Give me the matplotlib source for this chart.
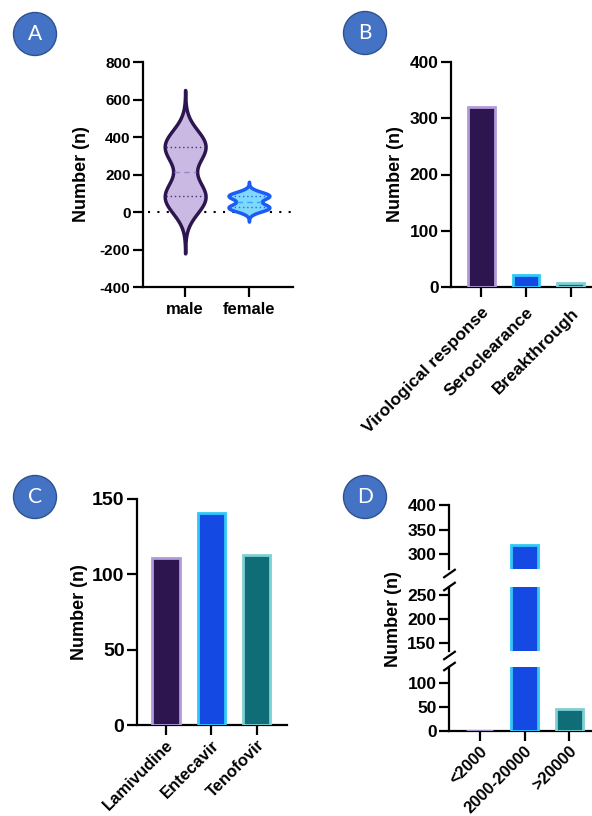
import numpy as np
import matplotlib
matplotlib.use('Agg')
import matplotlib.pyplot as plt
from matplotlib.patches import Ellipse

# ---- data ----
sex_labels = ['male', 'female']
male_values = [60, 80, 100, 330, 350, 370]
female_values = [15, 25, 30, 80, 85, 95]
male_bw, female_bw = 85, 20

outcome_labels = ['Virological response', 'Seroclearance', 'Breakthrough']
outcome_counts = [320, 22, 8]

drug_labels = ['Lamivudine', 'Entecavir', 'Tenofovir']
drug_counts = [111, 141, 113]

load_labels = ['<2000', '2000-20000', '>20000']
load_counts = [1, 318, 46]

# colours
PURPLE, LAVENDER = '#2d1650', '#b09ad9'
BLUE, CYAN = '#1449e3', '#30c8f7'
TEAL, LTEAL = '#0f6d78', '#80cfd5'
bar_fill = [PURPLE, BLUE, TEAL]
bar_edge = [LAVENDER, CYAN, LTEAL]

plt.rcParams['font.family'] = ['Liberation Sans', 'DejaVu Sans']
plt.rcParams['font.weight'] = 'bold'
plt.rcParams['axes.labelweight'] = 'bold'
plt.rcParams['axes.unicode_minus'] = False

W, H = 592, 816
fig = plt.figure(figsize=(W / 100, H / 100), dpi=100)


def px_axes(left, top, right, bottom):
    return fig.add_axes([left / W, 1 - bottom / H, (right - left) / W, (bottom - top) / H])


def style(ax, ytick_size=11, bottom=True):
    for s in ['top', 'right']:
        ax.spines[s].set_visible(False)
    ax.spines['left'].set_linewidth(1.6)
    ax.spines['bottom'].set_linewidth(1.6)
    ax.spines['bottom'].set_visible(bottom)
    ax.tick_params(axis='y', length=7, width=1.6, labelsize=ytick_size, pad=2)
    ax.tick_params(axis='x', length=7, width=1.6, pad=6)
    if not bottom:
        ax.tick_params(axis='x', length=0, labelbottom=False)


def panel_letter(cx, cy, letter):
    fig.patches.append(Ellipse((cx / W, 1 - cy / H), 43 / W, 43 / H,
                               transform=fig.transFigure, facecolor='#4472c4',
                               edgecolor='#2f528f', lw=1))
    fig.text(cx / W, 1 - cy / H, letter, color='white', fontsize=15,
             family='Lato', weight='normal', ha='center', va='center')


def rotated_labels(ax, labels, size=12.5):
    ax.set_xticklabels(labels, rotation=45, ha='right', va='top',
                       rotation_mode='anchor', fontsize=size)


def kde(vals, grid, bw):
    z = (grid[:, None] - np.asarray(vals, float)[None, :]) / bw
    return np.exp(-0.5 * z ** 2).sum(axis=1)


def violin(ax, pos, vals, bw, face, edge, qcol, mcol):
    grid = np.linspace(min(vals) - 3.3 * bw, max(vals) + 3.3 * bw, 500)
    d = kde(vals, grid, bw)
    half = d / d.max() * 0.32
    ax.fill_betweenx(grid, pos - half, pos + half, facecolor=face,
                     edgecolor=edge, lw=2.5, zorder=3)
    q1, med, q3 = np.percentile(vals, [25, 50, 75])
    for q, col, ls in [(q1, qcol, (0, (1, 2))), (q3, qcol, (0, (1, 2))),
                       (med, mcol, (0, (4, 3)))]:
        w = np.interp(q, grid, half) - 0.02
        ax.plot([pos - w, pos + w], [q, q], color=col, lw=1, ls=ls, zorder=4)


# ---- A: violin ----
axA = px_axes(143, 62, 293, 287)
axA.axhline(0, xmin=0.03, color='black', lw=1.5, ls=(0, (1, 3.5)), zorder=2)
violin(axA, 0, male_values, male_bw, '#c9b9e3', PURPLE, '#4b2d7d', '#9a86d0')
violin(axA, 1, female_values, female_bw, '#80d8fb', '#1a5cf5', '#2a66ff', '#30a8ff')
axA.set_xlim(-0.66, 1.69)
axA.set_ylim(-400, 800)
axA.set_yticks(np.arange(-400, 801, 200))
axA.set_xticks([0, 1])
axA.set_xticklabels(sex_labels, fontsize=12)
axA.set_ylabel('Number (n)', fontsize=13)
axA.yaxis.set_label_coords(-0.355, 0.5)
style(axA)
axA.tick_params(axis='x', pad=4)

# ---- B: outcomes ----
axB = px_axes(451, 62, 592, 287)
xb = np.arange(len(outcome_counts))
axB.bar(xb, outcome_counts, width=0.6, color=bar_fill, edgecolor=bar_edge, lw=2, zorder=3)
axB.set_xlim(-0.67, 2.47)
axB.set_ylim(0, 400)
axB.set_yticks([0, 100, 200, 300, 400])
axB.set_xticks(xb)
rotated_labels(axB, outcome_labels)
axB.set_ylabel('Number (n)', fontsize=13)
axB.yaxis.set_label_coords(-0.335, 0.5)
style(axB, ytick_size=12.5)

# ---- C: drugs ----
axC = px_axes(137, 499, 287, 725)
xc = np.arange(len(drug_counts))
axC.bar(xc, drug_counts, width=0.6, color=bar_fill, edgecolor=bar_edge, lw=2, zorder=3)
axC.set_xlim(-0.64, 2.67)
axC.set_ylim(0, 150)
axC.set_yticks([0, 50, 100, 150])
axC.set_xticks(xc)
rotated_labels(axC, drug_labels, size=12)
axC.set_ylabel('Number (n)', fontsize=13)
axC.yaxis.set_label_coords(-0.33, 0.5)
style(axC, ytick_size=14)
axC.tick_params(axis='x', pad=2)

# ---- D: broken axis ----
segs = [((505, 569), (270, 400), [300, 350, 400]),
        ((587, 651), (132, 268), [150, 200, 250]),
        ((667, 731), (0, 134), [0, 50, 100])]
xd = np.arange(len(load_counts))
axesD = []
for i, ((top, bot), lim, ticks) in enumerate(segs):
    ax = px_axes(449, top, 592, bot)
    ax.bar(xd, load_counts, width=0.6, color=bar_fill, edgecolor=bar_edge, lw=2, zorder=3)
    ax.set_xlim(-0.69, 2.51)
    ax.set_ylim(*lim)
    ax.set_yticks(ticks)
    last = i == len(segs) - 1
    style(ax, ytick_size=12.5, bottom=last)
    ax.set_xticks(xd)
    kw = dict(transform=ax.transAxes, marker=[(-1, -0.7), (1, 0.7)], markersize=9,
              linestyle='none', color='k', mec='k', mew=1.6, clip_on=False)
    if i > 0:
        ax.plot([0], [1.02], **kw)
    if not last:
        ax.plot([0], [-0.06], **kw)
    axesD.append(ax)
rotated_labels(axesD[-1], load_labels, size=12)
axesD[-1].tick_params(axis='x', pad=2)
axesD[1].set_ylabel('Number (n)', fontsize=13)
axesD[1].yaxis.set_label_coords(-0.33, 0.5)

for cx, cy, letter in [(35, 34, 'A'), (365, 33, 'B'), (35, 497, 'C'), (365, 497, 'D')]:
    panel_letter(cx, cy, letter)

fig.savefig('out.png', dpi=100)
